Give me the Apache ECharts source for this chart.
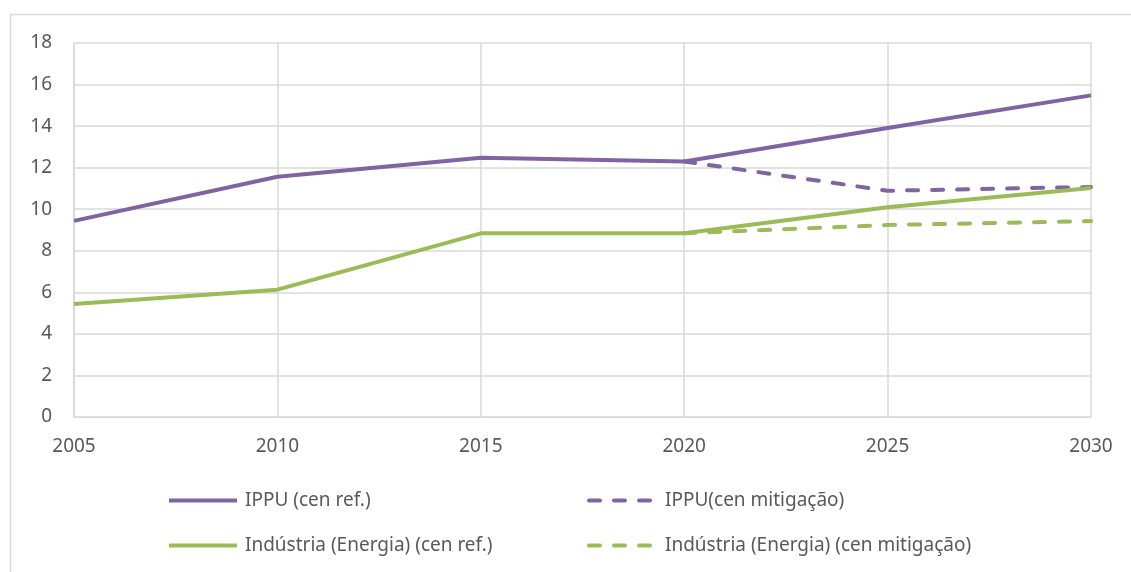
<!DOCTYPE html>
<html>
<head>
<meta charset="utf-8">
<script src="https://cdn.jsdelivr.net/npm/echarts@6/dist/echarts.min.js"></script>
<style>
  html, body { margin: 0; padding: 0; background: #fff; }
  #main { width: 1131px; height: 572px; }
</style>
</head>
<body>
<div id="main"></div>
<script>
// anos (eixo x)
var anos = ['2005', '2010', '2015', '2020', '2025', '2030'];
// IPPU cenario de referencia
var ippuRef = [9.44, 11.56, 12.48, 12.3, 13.91, 15.48];
// IPPU cenario de mitigacao (comeca em 2020)
var ippuMit = [null, null, null, 12.3, 10.89, 11.07];
// Industria (Energia) cenario de referencia
var indRef = [5.44, 6.13, 8.84, 8.84, 10.09, 11.02];
// Industria (Energia) cenario de mitigacao
var indMit = [null, null, null, 8.84, 9.24, 9.43];

var nomes = ['IPPU (cen ref.)', 'IPPU(cen mitigação)', 'Indústria (Energia) (cen ref.)', 'Indústria (Energia) (cen mitigação)'];

var roxo = '#8064a2';
var verde = '#9bbb59';
var cinza = '#d9d9d9';
var texto = '#595959';
var fonte = '"Noto Sans", sans-serif';

function legenda(nome, x, y) {
    return {
        data: [nome],
        left: x,
        top: y,
        padding: 0,
        itemWidth: 68,
        itemHeight: 12,
        itemGap: 0,
        selectedMode: false,
        itemStyle: { opacity: 0 },
        lineStyle: { width: 4 },
        textStyle: { color: texto, fontSize: 19, fontFamily: fonte, padding: [0, 0, 0, 3] }
    };
}

function serie(nome, dados, cor, tracejado) {
    return {
        name: nome,
        type: 'line',
        data: dados,
        symbol: 'none',
        connectNulls: false,
        lineStyle: {
            color: cor,
            width: 4,
            type: tracejado ? [11, 14] : 'solid',
            cap: tracejado ? 'round' : 'butt'
        },
        itemStyle: { color: cor },
        z: tracejado ? 2 : 3
    };
}

var myChart = echarts.init(document.getElementById('main'));
var option = {
    backgroundColor: '#fff',
    animation: false,
    graphic: [
        { type: 'line', shape: { x1: 10, y1: 14.5, x2: 1131, y2: 14.5 }, style: { stroke: cinza, lineWidth: 1.5 } },
        { type: 'line', shape: { x1: 10.5, y1: 14, x2: 10.5, y2: 572 }, style: { stroke: cinza, lineWidth: 1.5 } }
    ],
    grid: { left: 74, right: 40, top: 43, bottom: 155 },
    legend: [
        legenda(nomes[0], 167, 491),
        legenda(nomes[1], 587, 491),
        legenda(nomes[2], 167, 536),
        legenda(nomes[3], 587, 536)
    ],
    xAxis: {
        type: 'category',
        data: anos,
        boundaryGap: false,
        axisLine: { lineStyle: { color: cinza, width: 1.5 } },
        axisTick: { show: false },
        axisLabel: { color: texto, fontSize: 19, fontFamily: fonte, margin: 20 },
        splitLine: { show: true, lineStyle: { color: cinza, width: 1.5 } }
    },
    yAxis: {
        type: 'value',
        min: 0,
        max: 18,
        interval: 2,
        axisLine: { show: true, lineStyle: { color: cinza, width: 1.5 } },
        axisTick: { show: false },
        axisLabel: { color: texto, fontSize: 19, fontFamily: fonte, margin: 22 },
        splitLine: { show: true, lineStyle: { color: cinza, width: 1.5 } }
    },
    series: [
        serie(nomes[0], ippuRef, roxo, false),
        serie(nomes[1], ippuMit, roxo, true),
        serie(nomes[2], indRef, verde, false),
        serie(nomes[3], indMit, verde, true)
    ]
};
myChart.setOption(option);
</script>
</body>
</html>
